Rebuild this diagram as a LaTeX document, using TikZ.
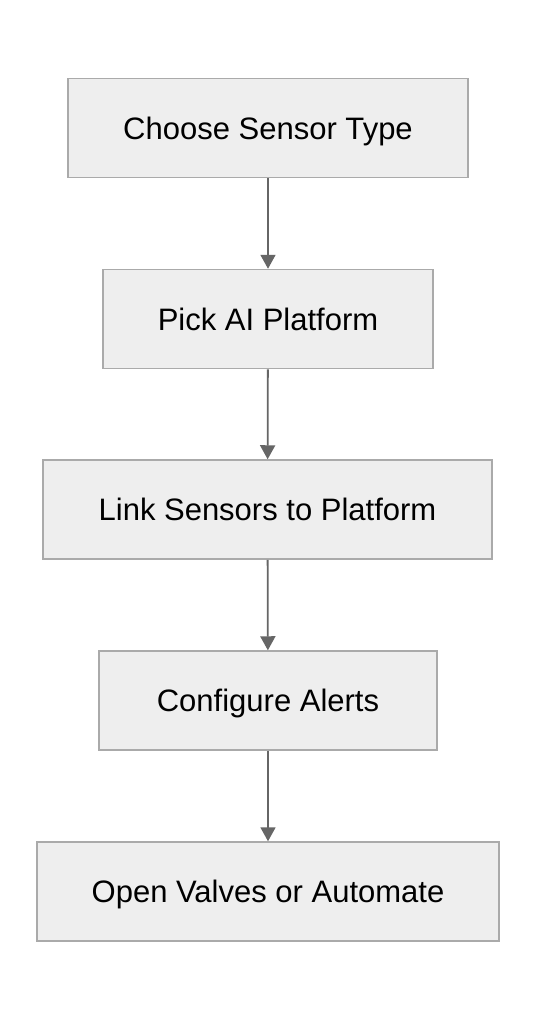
\documentclass[tikz,border=0pt]{standalone}
\usepackage{fontspec}
\setmainfont{Liberation Sans}
\usetikzlibrary{arrows.meta}
\definecolor{boxfill}{HTML}{EEEEEE}
\definecolor{boxline}{HTML}{AAAAAA}
\definecolor{arrowcol}{HTML}{666666}
\begin{document}
\begin{tikzpicture}[x=1pt,y=-1pt,
  stepbox/.style={draw=boxline,fill=boxfill,line width=1.5pt,minimum height=99pt,inner sep=0pt,text height=22pt,text depth=0pt,font=\fontsize{31}{36}\selectfont,text=black},
  conn/.style={draw=arrowcol,line width=1.8pt,-{Triangle[length=14pt,width=15pt]}}]
\useasboundingbox (0,0) rectangle (536,1020);
\fill[white] (0,0) rectangle (536,1020);
\node[stepbox,minimum width=400pt] (a) at (268,128) {Choose Sensor Type};
\node[stepbox,minimum width=330pt] (b) at (268,319) {Pick AI Platform};
\node[stepbox,minimum width=449pt] (c) at (267.5,509.5) {Link Sensors to Platform};
\node[stepbox,minimum width=338pt] (d) at (268,700.5) {Configure Alerts};
\node[stepbox,minimum width=462pt] (e) at (268,891.5) {Open Valves or Automate};
\draw[conn] (a) -- (b);
\draw[conn] (b) -- (c);
\draw[conn] (c) -- (d);
\draw[conn] (d) -- (e);
\end{tikzpicture}
\end{document}
